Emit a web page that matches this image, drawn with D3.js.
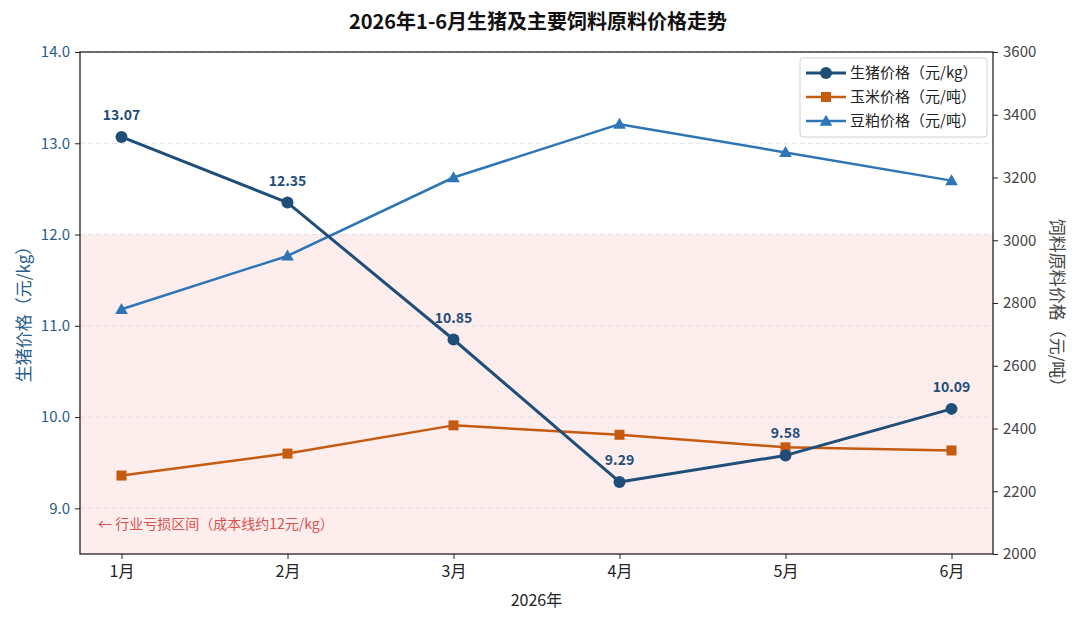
<!DOCTYPE html>
<html><head><meta charset="utf-8">
<script src="https://cdn.jsdelivr.net/npm/d3@7"></script>
<style>body{margin:0;background:#fff;font-family:"Noto Sans CJK SC","Noto Sans",sans-serif;}</style>
</head><body>
<svg id="c" width="1080" height="621"></svg>
<script>
const months = ["1月","2月","3月","4月","5月","6月"];
const hogPrice = [13.07, 12.35, 10.85, 9.29, 9.58, 10.09];
const cornPrice = [2250, 2320, 2410, 2380, 2340, 2330];
const soyPrice = [2780, 2950, 3200, 3370, 3280, 3190];
const leftTicks = [9.0, 10.0, 11.0, 12.0, 13.0, 14.0];
const rightTicks = [2000, 2200, 2400, 2600, 2800, 3000, 3200, 3400, 3600];
const lossThreshold = 12;
const seriesNames = ["生猪价格（元/kg）","玉米价格（元/吨）","豆粕价格（元/吨）"];

const svg = d3.select("#c");
const font = '"Noto Sans CJK SC","Noto Sans",sans-serif';
const L = 80, R = 993, T = 52, B = 554;
const cHog = "#1f4e79", cCorn = "#c55a11", cSoy = "#2e75b6";

const x = d3.scalePoint().domain(months).range([L, R]).padding(0.25);
const yL = d3.scaleLinear().domain([8.5, 14.0]).range([B, T]);
const yR = d3.scaleLinear().domain([2000, 3600]).range([B, T]);

// loss zone
svg.append("rect").attr("x", L).attr("y", yL(lossThreshold)).attr("width", R - L)
  .attr("height", yL(8.5) - yL(lossThreshold)).attr("fill", "#fdeded");

// grid
svg.append("g").selectAll("line").data(leftTicks).join("line")
  .attr("x1", L).attr("x2", R).attr("y1", d => yL(d)).attr("y2", d => yL(d))
  .attr("stroke", "#dddddd").attr("stroke-dasharray", "5,3").attr("stroke-width", 0.8);

// annotation
svg.append("text").attr("x", 98).attr("y", 529).attr("fill", "#d9534f")
  .attr("font-size", 14).attr("font-family", font).text("← 行业亏损区间（成本线约12元/kg）");

// axes
const gx = svg.append("g").attr("transform", `translate(0,${B})`)
  .call(d3.axisBottom(x).tickSize(5).tickPadding(7));
gx.select(".domain").remove();
gx.selectAll("text").attr("font-size", 16).attr("font-family", font).attr("fill", "#222");
gx.selectAll("line").attr("stroke", "#222");

const gl = svg.append("g").attr("transform", `translate(${L},0)`)
  .call(d3.axisLeft(yL).tickValues(leftTicks).tickFormat(d3.format(".1f")).tickSize(5).tickPadding(5));
gl.select(".domain").remove();
gl.selectAll("text").attr("font-size", 15).attr("font-family", font).attr("fill", "#2a5d8a");
gl.selectAll("line").attr("stroke", "#222");

const gr = svg.append("g").attr("transform", `translate(${R},0)`)
  .call(d3.axisRight(yR).tickValues(rightTicks).tickFormat(d3.format("d")).tickSize(5).tickPadding(5));
gr.select(".domain").remove();
gr.selectAll("text").attr("font-size", 15).attr("font-family", font).attr("fill", "#444");
gr.selectAll("line").attr("stroke", "#222");

// frame
svg.append("rect").attr("x", L).attr("y", T).attr("width", R - L).attr("height", B - T)
  .attr("fill", "none").attr("stroke", "#111").attr("stroke-width", 1.2);

// lines
function drawLine(vals, yScale, color, width) {
  svg.append("path").datum(vals)
    .attr("d", d3.line().x((d, i) => x(months[i])).y(d => yScale(d)))
    .attr("fill", "none").attr("stroke", color).attr("stroke-width", width)
    .attr("stroke-linejoin", "round");
}
drawLine(cornPrice, yR, cCorn, 2.5);
svg.append("g").selectAll("rect").data(cornPrice).join("rect")
  .attr("x", (d, i) => x(months[i]) - 5).attr("y", d => yR(d) - 5)
  .attr("width", 10).attr("height", 10).attr("fill", cCorn);

drawLine(soyPrice, yR, cSoy, 2.5);
const tri = d3.symbol().type(d3.symbolTriangle).size(70);
svg.append("g").selectAll("path").data(soyPrice).join("path")
  .attr("d", tri).attr("transform", (d, i) => `translate(${x(months[i])},${yR(d) + 1})`)
  .attr("fill", cSoy);

drawLine(hogPrice, yL, cHog, 3);
svg.append("g").selectAll("circle").data(hogPrice).join("circle")
  .attr("cx", (d, i) => x(months[i])).attr("cy", d => yL(d)).attr("r", 6).attr("fill", cHog);
svg.append("g").selectAll("text").data(hogPrice).join("text")
  .attr("x", (d, i) => x(months[i])).attr("y", d => yL(d) - 17)
  .attr("text-anchor", "middle").attr("font-size", 14).attr("font-weight", "bold")
  .attr("font-family", font).attr("fill", cHog).text(d => d.toFixed(2));

// title & labels
svg.append("text").attr("x", 538).attr("y", 29).attr("text-anchor", "middle")
  .attr("font-size", 20).attr("font-weight", "bold").attr("font-family", font).attr("fill", "#111")
  .text("2026年1-6月生猪及主要饲料原料价格走势");
svg.append("text").attr("x", (L + R) / 2).attr("y", 606).attr("text-anchor", "middle")
  .attr("font-size", 16).attr("font-family", font).attr("fill", "#222").text("2026年");
svg.append("text").attr("transform", `translate(22,310) rotate(-90)`)
  .attr("text-anchor", "middle").attr("dominant-baseline", "central").attr("font-size", 17).attr("font-family", font)
  .attr("fill", "#2a5d8a").text("生猪价格（元/kg）");
svg.append("text").attr("transform", `translate(1058,307) rotate(90)`)
  .attr("text-anchor", "middle").attr("dominant-baseline", "central").attr("font-size", 17).attr("font-family", font)
  .attr("fill", "#444").text("饲料原料价格（元/吨）");

// legend
const lg = svg.append("g").attr("transform", "translate(800,58)");
lg.append("rect").attr("width", 187).attr("height", 79).attr("rx", 3)
  .attr("fill", "#fff").attr("fill-opacity", 0.85).attr("stroke", "#d0d0d0");
const legendItems = [
  {name: seriesNames[0], color: cHog, mark: "circle"},
  {name: seriesNames[1], color: cCorn, mark: "square"},
  {name: seriesNames[2], color: cSoy, mark: "triangle"}
];
legendItems.forEach((it, i) => {
  const yy = 15 + i * 24;
  const g = lg.append("g").attr("transform", `translate(0,${yy})`);
  g.append("line").attr("x1", 6).attr("x2", 46).attr("y1", 0).attr("y2", 0)
    .attr("stroke", it.color).attr("stroke-width", it.mark === "circle" ? 3 : 2.5);
  if (it.mark === "circle") g.append("circle").attr("cx", 26).attr("cy", 0).attr("r", 6).attr("fill", it.color);
  else if (it.mark === "square") g.append("rect").attr("x", 21).attr("y", -5).attr("width", 10).attr("height", 10).attr("fill", it.color);
  else g.append("path").attr("d", tri).attr("transform", "translate(26,1)").attr("fill", it.color);
  g.append("text").attr("x", 50).attr("y", 5).attr("font-size", 15).attr("font-family", font)
    .attr("fill", "#222").text(it.name);
});
</script>
</body></html>
